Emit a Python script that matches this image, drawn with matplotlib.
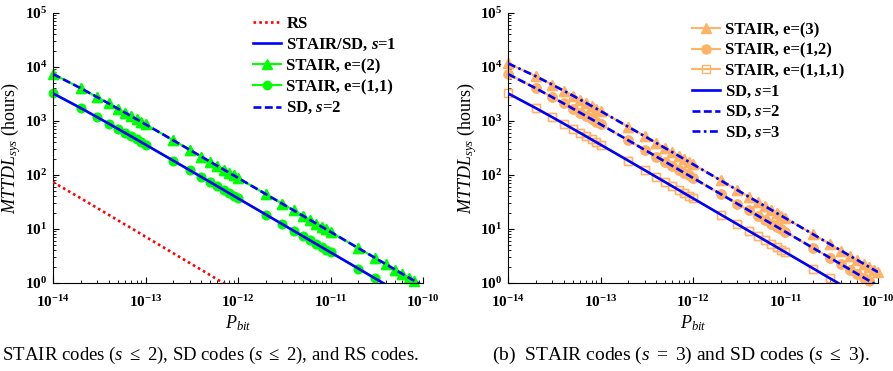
import numpy as np
import matplotlib
matplotlib.use('Agg')
import matplotlib.pyplot as plt
from matplotlib.ticker import FuncFormatter, LogLocator, NullFormatter

plt.rcParams['font.family'] = 'Liberation Serif'
plt.rcParams['mathtext.fontset'] = 'custom'
plt.rcParams['mathtext.rm'] = 'Liberation Serif'
plt.rcParams['mathtext.it'] = 'Liberation Serif:italic'
plt.rcParams['mathtext.bf'] = 'Liberation Serif:bold'
plt.rcParams['mathtext.bfit'] = 'Liberation Serif:bold:italic'

# P_bit values (markers at 1..9 x each decade)
pbit = [1e-14, 2e-14, 3e-14, 4e-14, 5e-14, 6e-14, 7e-14, 8e-14, 9e-14,
        1e-13, 2e-13, 3e-13, 4e-13, 5e-13, 6e-13, 7e-13, 8e-13, 9e-13,
        1e-12, 2e-12, 3e-12, 4e-12, 5e-12, 6e-12, 7e-12, 8e-12, 9e-12,
        1e-11, 2e-11, 3e-11, 4e-11, 5e-11, 6e-11, 7e-11, 8e-11, 9e-11,
        1e-10]

# MTTDL_sys (hours)
mttdl_rs = [74, 37, 24.5, 18.3, 14.6, 12.1, 10.4, 9.05, 8.03,
            7.2, 3.55, 2.35, 1.76, 1.4, 1.16, 0.99, 0.87, 0.77, 0.69]
mttdl_s1 = [3247, 1730, 1179, 894, 720, 603, 519, 455, 405,
            365, 184, 122.9, 92.3, 73.9, 61.6, 52.8, 46.2, 41.1,
            36.98, 18.5, 12.34, 9.25, 7.40, 6.17, 5.29, 4.63, 4.11,
            3.70, 1.85, 1.23, 0.926, 0.741, 0.617, 0.529, 0.463, 0.411,
            0.370]
mttdl_s2 = [7407, 4032, 2770, 2110, 1704, 1429, 1230, 1080, 962,
            868, 438, 293, 220, 176, 147, 126, 110, 98.1,
            88.3, 44.2, 29.5, 22.1, 17.7, 14.7, 12.6, 11.06, 9.83,
            8.85, 4.42, 2.95, 2.21, 1.77, 1.47, 1.26, 1.106, 0.983,
            0.885]
mttdl_s3 = [11696, 6734, 4728, 3643, 2963, 2497, 2157, 1899, 1696,
            1533, 780, 523, 393, 315, 263, 226, 198, 176,
            158.2, 79.2, 52.8, 39.6, 31.7, 26.4, 22.7, 19.8, 17.6,
            15.87, 7.94, 5.29, 3.97, 3.17, 2.65, 2.27, 1.98, 1.76,
            1.59]

labels_a = ['RS', r'STAIR/SD, $\mathbfit{s}$=1', 'STAIR, e=(2)',
            'STAIR, e=(1,1)', r'SD, $\mathbfit{s}$=2']
labels_b = ['STAIR, e=(3)', 'STAIR, e=(1,2)', 'STAIR, e=(1,1,1)',
            r'SD, $\mathbfit{s}$=1', r'SD, $\mathbfit{s}$=2', r'SD, $\mathbfit{s}$=3']
caption_a = r'(a) STAIR codes ($s\ \leq\ 2$), SD codes ($s\ \leq\ 2$), and RS codes.'
caption_b = r'(b)  STAIR codes ($s\ =\ 3$) and SD codes ($s\ \leq\ 3$).'

BLUE = '#0000ff'
GREEN = '#00ff00'
ORANGE = '#ffb366'
RED = '#ff0000'

x = np.array(pbit)
W, H = 893, 371
fig = plt.figure(figsize=(W / 100, H / 100), dpi=100)


def stair(ax, y, color, marker, ms, filled=True):
    y = np.array(y)
    keep = y >= 1.0
    kw = dict(color=color, marker=marker, ms=ms, mec=color,
              mfc=color if filled else 'none', mew=1.0)
    h, = ax.plot(x, y, '-', lw=1.5, markevery=list(keep), zorder=2, **kw)
    ax.plot(x[keep], y[keep], ls='none', clip_on=False, zorder=2, **kw)
    return h


def sd(ax, y, dashes=None):
    h, = ax.plot(x[:len(y)], y, color=BLUE, lw=1.9, zorder=3)
    if dashes:
        h.set_dashes(dashes)
    return h


def pow_fmt(lo, hi):
    # label only the decades inside the view
    def f(v, p):
        if v < lo * 0.99 or v > hi * 1.01:
            return ''
        return r'$\mathbf{10^{%d}}$' % int(round(np.log10(v)))
    return FuncFormatter(f)


def style(ax, ylab_x):
    ax.set_xscale('log')
    ax.set_yscale('log')
    ax.set_xlim(1e-14, 1e-10)
    ax.set_ylim(1, 1e5)
    for s in ['top', 'right']:
        ax.spines[s].set_visible(False)
    for axis, lim in [(ax.xaxis, (1e-14, 1e-10)), (ax.yaxis, (1, 1e5))]:
        axis.set_major_locator(LogLocator(base=10, numticks=10))
        axis.set_minor_locator(LogLocator(base=10, subs=np.arange(2, 10), numticks=10))
        axis.set_minor_formatter(NullFormatter())
        axis.set_major_formatter(pow_fmt(*lim))
    ax.tick_params(which='major', direction='in', length=4, width=0.8, labelsize=11)
    ax.tick_params(axis='x', which='major', pad=8)
    ax.tick_params(axis='y', which='major', pad=4)
    ax.tick_params(which='minor', direction='in', length=2.5, width=0.6)
    ax.set_xlabel(r'$P_{bit}$', fontsize=13)
    ax.set_ylabel(r'$MTTDL_{sys}$ (hours)', fontsize=13)
    ax.xaxis.set_label_coords(0.5, -0.112)
    ax.yaxis.set_label_coords(ylab_x, 0.5)


legend_kw = dict(loc='upper left', bbox_transform=fig.transFigure, frameon=False,
                 borderpad=0, borderaxespad=0, handlelength=1.7, handletextpad=0.3,
                 labelspacing=0.3,
                 prop={'family': 'Liberation Serif', 'weight': 'bold', 'size': 12})

# (a)
ax1 = fig.add_axes([53 / W, 1 - 283 / H, 370 / W, 270 / H])
h_tri = stair(ax1, mttdl_s2, GREEN, '^', 6.5)
h_cir = stair(ax1, mttdl_s1, GREEN, 'o', 6)
h_rs, = ax1.plot(x[:len(mttdl_rs)], mttdl_rs, color=RED, lw=1.9, zorder=3)
h_rs.set_dashes([1, 1.2])
h_s1 = sd(ax1, mttdl_s1)
h_s2 = sd(ax1, mttdl_s2, [3, 1.3])
style(ax1, -0.080)
ax1.legend([h_rs, h_s1, h_tri, h_cir, h_s2], labels_a,
           bbox_to_anchor=(253 / W, 1 - 16 / H), **legend_kw)

# (b)
ax2 = fig.add_axes([508 / W, 1 - 283 / H, 370 / W, 270 / H])
o_tri = stair(ax2, mttdl_s3, ORANGE, '^', 6.5)
o_cir = stair(ax2, mttdl_s2, ORANGE, 'o', 6.5)
o_sq = stair(ax2, mttdl_s1, ORANGE, 's', 5.5, filled=False)
b_s1 = sd(ax2, mttdl_s1)
b_s2 = sd(ax2, mttdl_s2, [3, 1.3])
b_s3 = sd(ax2, mttdl_s3, [3, 1.3, 1, 1.3])
style(ax2, -0.078)
legend_kw['labelspacing'] = 0.27
ax2.legend([o_tri, o_cir, o_sq, b_s1, b_s2, b_s3], labels_b,
           bbox_to_anchor=(692 / W, 1 - 22 / H), **legend_kw)

# captions
fig.text(419 / W, 1 - 359.5 / H, caption_a, ha='right', va='baseline', fontsize=13.5)
fig.text(492 / W, 1 - 359.5 / H, caption_b, ha='left', va='baseline', fontsize=14)

fig.savefig('out.png', dpi=100)
